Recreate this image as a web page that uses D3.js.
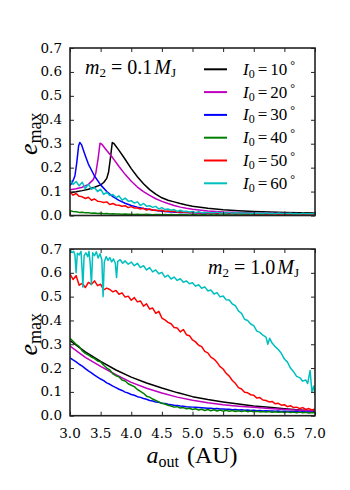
<!DOCTYPE html>
<html>
<head>
<meta charset="utf-8">
<script src="https://cdn.jsdelivr.net/npm/d3@7/dist/d3.min.js"></script>
<style>
  body { margin: 0; background: #fff; }
  text { fill: #000; }
</style>
</head>
<body>
<div id="chart"></div>
<script>

// inclinations and line colours (matplotlib k, m, b, g, r, c)
var inclinations = [10, 20, 30, 40, 50, 60];
var colors = ["#000000", "#bf00bf", "#0000ff", "#008000", "#ff0000", "#00bfbf"];

var xTicks = [3.0, 3.5, 4.0, 4.5, 5.0, 5.5, 6.0, 6.5, 7.0];
var yTicks = [0.0, 0.1, 0.2, 0.3, 0.4, 0.5, 0.6, 0.7];

// common a_out grid for the noisy runs
var gridX = [3.00,3.05,3.10,3.15,3.20,3.25,3.30,3.35,3.40,3.45,3.50,3.55,3.60,3.65,3.70,3.75,3.80,3.85,3.90,3.95,
             4.00,4.05,4.10,4.15,4.20,4.25,4.30,4.35,4.40,4.45,4.50,4.55,4.60,4.65,4.70,4.75,4.80,4.85,4.90,4.95,
             5.00,5.05,5.10,5.15,5.20,5.25,5.30,5.35,5.40,5.45,5.50,5.55,5.60,5.65,5.70,5.75,5.80,5.85,5.90,5.95,
             6.00,6.05,6.10,6.15,6.20,6.25,6.30,6.35,6.40,6.45,6.50,6.55,6.60,6.65,6.70,6.75,6.80,6.85,6.90,6.95,7.00];

// ---- m2 = 0.1 MJ ----
var top10 = [[3.0,.095],[3.1,.099],[3.2,.104],[3.3,.110],[3.4,.118],[3.5,.128],[3.55,.138],[3.6,.155],[3.63,.182],
             [3.66,.240],[3.69,.305],[3.72,.300],[3.8,.272],[3.9,.235],[4.0,.196],[4.1,.162],[4.2,.133],[4.3,.108],
             [4.4,.089],[4.5,.074],[4.6,.064],[4.7,.057],[4.8,.050],[4.9,.044],[5.0,.039],[5.25,.030],[5.5,.024],
             [5.75,.020],[6.0,.017],[6.5,.013],[7.0,.010]];
var top20 = [[3.0,.108],[3.1,.112],[3.2,.118],[3.3,.130],[3.38,.150],[3.42,.175],[3.46,.240],[3.49,.302],[3.52,.298],
             [3.6,.272],[3.7,.240],[3.8,.205],[3.9,.172],[4.0,.143],[4.1,.119],[4.2,.100],[4.3,.084],[4.4,.070],
             [4.5,.059],[4.6,.050],[4.7,.042],[4.8,.035],[4.9,.030],[5.0,.026],[5.25,.019],[5.5,.015],[6.0,.010],
             [6.5,.008],[7.0,.006]];
var top30 = [[3.0,.125],[3.04,.140],[3.08,.165],[3.11,.220],[3.14,.290],[3.16,.305],[3.19,.295],[3.25,.250],[3.3,.215],
             [3.4,.165],[3.5,.128],[3.6,.100],[3.7,.079],[3.8,.063],[3.9,.051],[4.0,.042],[4.1,.035],[4.2,.029],
             [4.4,.021],[4.6,.016],[4.8,.013],[5.0,.011],[5.5,.008],[6.0,.006],[6.5,.005],[7.0,.004]];
var top40 = [.020,.017,.016,.013,.014,.011,.012,.009,.010,.008,
             .009,.007,.008,.006,.007,.006,.006,.005,.006,.005,
             .005,.004,.005,.004,.004,.005,.004,.003,.004,.004,
             .003,.004,.003,.004,.003,.003,.004,.003,.003,.002,
             .003,.003,.002,.003,.003,.002,.003,.002,.003,.002,
             .002,.003,.002,.002,.003,.002,.002,.003,.002,.002,
             .002,.002,.003,.002,.002,.002,.002,.003,.002,.002,
             .002,.002,.002,.002,.002,.002,.002,.002,.002,.002,.002];
var top50 = [.098,.085,.092,.080,.078,.071,.076,.064,.069,.060,
             .058,.054,.057,.046,.050,.044,.043,.039,.041,.033,
             .037,.031,.031,.027,.030,.023,.027,.022,.023,.020,
             .022,.017,.019,.017,.018,.014,.016,.014,.015,.011,
             .014,.012,.012,.010,.013,.009,.011,.010,.010,.009,
             .010,.008,.011,.008,.009,.007,.010,.007,.008,.008,
             .008,.006,.008,.007,.007,.006,.008,.005,.007,.006,
             .007,.005,.006,.006,.006,.004,.006,.005,.005,.005,.005];
var top60 = [.150,.130,.142,.124,.139,.112,.131,.110,.116,.100,
             .110,.088,.097,.084,.088,.075,.082,.064,.073,.060,
             .062,.052,.057,.042,.050,.039,.041,.034,.038,.027,
             .033,.025,.027,.022,.025,.017,.022,.017,.018,.015,
             .017,.012,.016,.012,.013,.013,.012,.011,.014,.010,
             .011,.010,.013,.009,.011,.010,.010,.009,.011,.008,
             .010,.009,.009,.008,.011,.008,.009,.007,.010,.008,
             .008,.008,.009,.007,.008,.006,.009,.007,.007,.007,.008];

// ---- m2 = 1.0 MJ ----
var bot10 = [[3.0,.315],[3.25,.268],[3.5,.228],[3.75,.192],[4.0,.162],[4.25,.137],[4.5,.116],[4.75,.097],[5.0,.080],
             [5.25,.068],[5.5,.058],[5.75,.049],[6.0,.041],[6.25,.035],[6.5,.029],[6.75,.024],[7.0,.020]];
var bot20 = [[3.0,.292],[3.25,.245],[3.5,.207],[3.75,.172],[4.0,.140],[4.25,.115],[4.5,.095],[4.75,.078],[5.0,.065],
             [5.25,.054],[5.5,.046],[5.75,.040],[6.0,.035],[6.25,.030],[6.5,.026],[6.75,.023],[7.0,.020]];
var bot30 = [.243,.234,.226,.216,.208,.198,.188,.180,.170,.162,
             .154,.147,.138,.132,.124,.118,.111,.106,.099,.095,
             .089,.086,.080,.077,.072,.069,.064,.062,.057,.056,
             .052,.051,.048,.046,.044,.043,.041,.040,.038,.037,
             .036,.035,.034,.033,.032,.031,.031,.029,.030,.028,
             .028,.027,.027,.025,.026,.024,.025,.023,.024,.022,
             .023,.021,.022,.020,.021,.020,.020,.019,.020,.018,
             .019,.018,.018,.017,.018,.016,.017,.016,.016,.015,.016];
var bot40 = [.325,.312,.300,.290,.272,.262,.255,.246,.240,.230,
             .226,.212,.200,.192,.176,.168,.163,.150,.146,.134,
             .128,.122,.110,.102,.094,.082,.078,.070,.064,.058,
             .052,.049,.044,.041,.036,.038,.032,.034,.029,.031,
             .026,.029,.024,.027,.022,.026,.021,.025,.020,.024,
             .019,.023,.019,.022,.018,.021,.017,.021,.017,.020,
             .016,.019,.016,.018,.015,.018,.014,.017,.014,.016,
             .013,.016,.013,.015,.012,.015,.012,.014,.011,.013,.011];
var bot50 = [.595,.572,.588,.548,.556,.538,.560,.552,.566,.546,
             .552,.528,.536,.530,.520,.526,.510,.516,.498,.502,
             .485,.496,.478,.482,.460,.470,.448,.452,.430,.438,
             .410,.402,.392,.386,.370,.368,.352,.362,.340,.336,
             .318,.310,.296,.290,.270,.264,.246,.238,.224,.206,
             .196,.178,.166,.148,.136,.118,.112,.098,.096,.088,
             .086,.074,.076,.066,.064,.058,.060,.050,.052,.044,
             .046,.038,.042,.034,.036,.030,.034,.026,.030,.024,.028];
var bot60 = [[3.00,.698],[3.03,.685],[3.06,.690],[3.08,.676],[3.10,.600],[3.12,.682],[3.15,.675],[3.18,.690],
             [3.20,.600],[3.21,.540],[3.23,.672],[3.26,.684],[3.29,.668],[3.31,.690],[3.33,.640],[3.35,.550],
             [3.37,.684],[3.40,.672],[3.43,.688],[3.46,.662],[3.49,.680],[3.52,.655],[3.54,.500],[3.56,.645],
             [3.59,.668],[3.62,.652],[3.65,.664],[3.68,.646],[3.71,.658],[3.74,.640],[3.76,.580],[3.78,.648],
             [3.82,.655],[3.86,.640],[3.90,.650],[3.95,.636],[4.00,.645],[4.05,.630],[4.10,.640],[4.15,.622],
             [4.20,.630],[4.25,.612],[4.30,.622],[4.35,.604],[4.40,.612],[4.45,.596],[4.50,.602],[4.55,.582],
             [4.60,.590],[4.65,.574],[4.70,.582],[4.75,.568],[4.80,.575],[4.85,.560],[4.90,.566],[4.95,.554],
             [5.00,.558],[5.05,.544],[5.10,.550],[5.15,.535],[5.20,.541],[5.25,.524],[5.30,.528],[5.35,.511],
             [5.40,.517],[5.45,.499],[5.50,.503],[5.55,.487],[5.60,.486],[5.65,.469],[5.70,.462],[5.75,.440],
             [5.80,.430],[5.85,.405],[5.90,.400],[5.95,.385],[6.00,.378],[6.05,.355],[6.10,.350],[6.15,.338],
             [6.20,.330],[6.23,.300],[6.26,.325],[6.30,.305],[6.35,.290],[6.40,.278],[6.45,.262],[6.50,.238],
             [6.55,.225],[6.60,.200],[6.65,.185],[6.70,.165],[6.75,.160],[6.80,.145],[6.85,.150],[6.88,.135],
             [6.92,.190],[6.95,.100],[6.98,.125],[7.00,.085]];

function onGrid(ys) {
	return ys.map(function(y, i) { return [gridX[i], y]; });
}

var topData = [top10, top20, top30, onGrid(top40), onGrid(top50), onGrid(top60)];
var botData = [bot10, bot20, onGrid(bot30), onGrid(bot40), onGrid(bot50), bot60];

var width = 350, height = 490;
var left = 70, right = 315;
var serif = "DejaVu Serif";
var mathFont = "Liberation Serif";

var svg = d3.select("#chart")
			.append("svg")
			.attr("width", width)
			.attr("height", height);

var x = d3.scaleLinear().domain([3, 7]).range([left, right]);

function panel(id, y0, y1, data, showX) {
	var y = d3.scaleLinear().domain([0, 0.7]).range([y1, y0]);

	svg.append("clipPath")
	   .attr("id", id)
	   .append("rect")
	   .attr("x", left)
	   .attr("y", y0)
	   .attr("width", right - left)
	   .attr("height", y1 - y0);

	var line = d3.line()
				 .x(function(d) { return x(d[0]); })
				 .y(function(d) { return y(d[1]); });

	var g = svg.append("g").attr("clip-path", "url(#" + id + ")");
	data.forEach(function(s, i) {
		g.append("path")
		 .datum(s)
		 .attr("d", line)
		 .attr("fill", "none")
		 .attr("stroke", colors[i])
		 .attr("stroke-width", 1.5)
		 .attr("stroke-linejoin", "round");
	});

	// inward ticks on all four sides
	var axes = [
		{ axis: d3.axisBottom(x).tickValues(xTicks), t: "translate(0," + y1 + ")" },
		{ axis: d3.axisTop(x).tickValues(xTicks), t: "translate(0," + y0 + ")" },
		{ axis: d3.axisLeft(y).tickValues(yTicks), t: "translate(" + left + ",0)" },
		{ axis: d3.axisRight(y).tickValues(yTicks), t: "translate(" + right + ",0)" }
	];
	axes.forEach(function(a) {
		var ag = svg.append("g")
					.attr("transform", a.t)
					.call(a.axis.tickSize(-4).tickFormat(""));
		ag.select(".domain").remove();
		ag.selectAll("line").attr("stroke", "#222").attr("stroke-width", 1);
	});

	svg.append("g")
	   .selectAll("text")
	   .data(yTicks)
	   .enter()
	   .append("text")
	   .attr("x", left - 8)
	   .attr("y", function(d) { return y(d) + 4.5; })
	   .attr("text-anchor", "end")
	   .attr("font-family", serif)
	   .attr("font-size", "13.5px")
	   .text(function(d) { return d.toFixed(1); });

	if (showX) {
		svg.append("g")
		   .selectAll("text")
		   .data(xTicks)
		   .enter()
		   .append("text")
		   .attr("x", function(d) { return x(d); })
		   .attr("y", y1 + 22)
		   .attr("text-anchor", "middle")
		   .attr("font-family", serif)
		   .attr("font-size", "13.5px")
		   .text(function(d) { return d.toFixed(1); });
	}

	svg.append("rect")
	   .attr("x", left)
	   .attr("y", y0)
	   .attr("width", right - left)
	   .attr("height", y1 - y0)
	   .attr("fill", "none")
	   .attr("stroke", "#222")
	   .attr("stroke-width", 1.6);

	// y label e_max
	var yl = svg.append("text")
				.attr("transform", "translate(37," + ((y0 + y1) / 2 + 2) + ") rotate(-90)")
				.attr("text-anchor", "middle")
				.attr("font-family", mathFont)
				.attr("font-size", "26px");
	yl.append("tspan").attr("font-style", "italic").text("e");
	yl.append("tspan").attr("font-size", "18px").attr("dy", 4).text("max");

	return y;
}

function mass(sel, txt) {
	sel.attr("font-family", mathFont).attr("font-size", "20px");
	sel.append("tspan").attr("font-style", "italic").text("m");
	sel.append("tspan").attr("font-size", "13px").attr("dy", 3).text("2");
	sel.append("tspan").attr("dy", -3).attr("dx", 5).text("=");
	sel.append("tspan").attr("dx", 5).text(txt);
	sel.append("tspan").attr("font-style", "italic").attr("dx", 2).text("M");
	sel.append("tspan").attr("font-size", "13px").attr("dy", 3).text("J");
}

panel("clipTop", 48, 215.5, topData, false);
panel("clipBot", 249, 415.7, botData, true);

mass(svg.append("text").attr("x", 85).attr("y", 74), "0.1");
mass(svg.append("text").attr("x", 299).attr("y", 274).attr("text-anchor", "end"), "1.0");

// legend
var legend = svg.append("g")
				.selectAll("g")
				.data(inclinations)
				.enter()
				.append("g")
				.attr("transform", function(d, i) { return "translate(204," + (69.3 + i * 22.8) + ")"; });

legend.append("line")
	  .attr("x1", 0)
	  .attr("x2", 23)
	  .attr("stroke", function(d, i) { return colors[i]; })
	  .attr("stroke-width", 2);

var lt = legend.append("text")
			   .attr("x", 39)
			   .attr("y", 5.5)
			   .attr("font-family", mathFont)
			   .attr("font-size", "17px");
lt.append("tspan").attr("font-style", "italic").text("I");
lt.append("tspan").attr("font-size", "12px").attr("dy", 3).text("0");
lt.append("tspan").attr("dy", -3).attr("dx", 3).text("=");
lt.append("tspan").attr("dx", 3).text(function(d) { return d; });
lt.append("tspan").attr("font-size", "12px").attr("dy", -6).attr("dx", 3).text("\u00b0");

// x label a_out (AU)
var xl = svg.append("text")
			.attr("x", 192)
			.attr("y", 463)
			.attr("text-anchor", "middle")
			.attr("font-family", mathFont)
			.attr("font-size", "24px");
xl.append("tspan").attr("font-style", "italic").text("a");
xl.append("tspan").attr("font-size", "16px").attr("dy", 4).text("out");
xl.append("tspan").attr("dy", -4).attr("dx", 8).text("(AU)");

</script>
</body>
</html>
